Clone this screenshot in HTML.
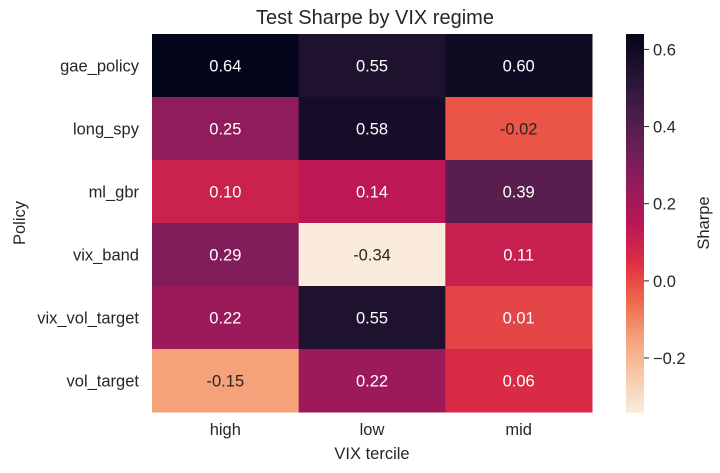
<!DOCTYPE html>
<html><head><meta charset="utf-8"><style>
body{margin:0;background:#fff;}
svg text{font-family:"Liberation Sans",sans-serif;fill:#262626;}
</style></head><body>
<svg id="chart" width="720" height="468" xmlns="http://www.w3.org/2000/svg">
<text x="375" y="24" text-anchor="middle" font-size="20">Test Sharpe by VIX regime</text>
<text x="372" y="459" text-anchor="middle" font-size="16.5">VIX tercile</text>
<text transform="translate(25,223) rotate(-90)" text-anchor="middle" font-size="16.5">Policy</text>
<text transform="translate(709,223) rotate(-90)" text-anchor="middle" font-size="16.5">Sharpe</text>
<g id="cells"></g><g id="labels"></g><g id="cbar"></g>
</svg>
<script>
const rows = ["gae_policy","long_spy","ml_gbr","vix_band","vix_vol_target","vol_target"];
const cols = ["high","low","mid"];
const values = [
 [0.64,0.55,0.60],
 [0.25,0.58,-0.02],
 [0.10,0.14,0.39],
 [0.29,-0.34,0.11],
 [0.22,0.55,0.01],
 [-0.15,0.22,0.06]
];
const cbTicks = [0.6,0.4,0.2,0.0,-0.2];
const vmin = -0.34, vmax = 0.64;

const X0=152,X1=592,Y0=34,Y1=412,CB0=626,CB1=644;
const cw=(X1-X0)/cols.length, rh=(Y1-Y0)/rows.length;
const stops=[[3,5,26],[34,19,49],[69,28,71],[106,31,86],[146,28,91],[185,22,87],[220,45,68],[239,100,72],[245,158,118],[247,200,168],[250,235,221]];
function rocketR(v){let t=1-(v-vmin)/(vmax-vmin);t=Math.max(0,Math.min(1,t));const p=t*(stops.length-1);const i=Math.min(Math.floor(p),stops.length-2);const f=p-i;
 return stops[i].map((c,k)=>Math.round(c+(stops[i+1][k]-c)*f));}
function lum(c){const l=c.map(x=>{x/=255;return x<=0.03928?x/12.92:Math.pow((x+0.055)/1.055,2.4)});return 0.2126*l[0]+0.7152*l[1]+0.0722*l[2];}
const yScale=v=>Y0+(vmax-v)/(vmax-vmin)*(Y1-Y0);
const NS="http://www.w3.org/2000/svg";
const cells=document.getElementById('cells'),labels=document.getElementById('labels'),cbar=document.getElementById('cbar');
function mk(tag,attrs,parent){const e=document.createElementNS(NS,tag);for(const k in attrs)e.setAttribute(k,attrs[k]);parent.appendChild(e);return e;}
values.forEach((row,r)=>row.forEach((v,c)=>{
 const col=rocketR(v);
 const rect=mk('rect',{x:X0+c*cw,y:Y0+r*rh,width:cw+0.5,height:rh+0.5,fill:`rgb(${col})`},cells);
 
 
 const t=mk('text',{x:X0+c*cw+cw/2,y:Y0+r*rh+rh/2+6,'text-anchor':'middle','font-size':'16.5'},cells);
 t.style.fill=lum(col)>0.23?'#262626':'#ffffff';
 t.textContent=v.toFixed(2);
 
 
}));
rows.forEach((n,r)=>{const t=mk('text',{x:139,y:Y0+r*rh+rh/2+6,'text-anchor':'end','font-size':'16.5'},labels);t.textContent=n;
 
 });
cols.forEach((n,c)=>{const t=mk('text',{x:X0+c*cw+cw/2,y:435,'text-anchor':'middle','font-size':'16.5'},labels);t.textContent=n;
 
 });
for(let i=0;i<120;i++){const y=Y0+i*(Y1-Y0)/120;const v=vmax-(i+0.5)/120*(vmax-vmin);
 const r=mk('rect',{x:CB0,y:y,width:CB1-CB0,height:(Y1-Y0)/120+0.6,fill:`rgb(${rocketR(v)})`},cbar);
 
 }
cbTicks.forEach(v=>{const y=yScale(v);
 const l=mk('line',{x1:CB1,x2:CB1+5,y1:y,y2:y,stroke:'#262626','stroke-width':1},cbar);
 
 
 const t=mk('text',{x:CB1+9,y:y+6,'font-size':'16.5'},cbar);t.textContent=(v<0?'\u2212':'')+Math.abs(v).toFixed(1);
 
 });
</script>
</body></html>
